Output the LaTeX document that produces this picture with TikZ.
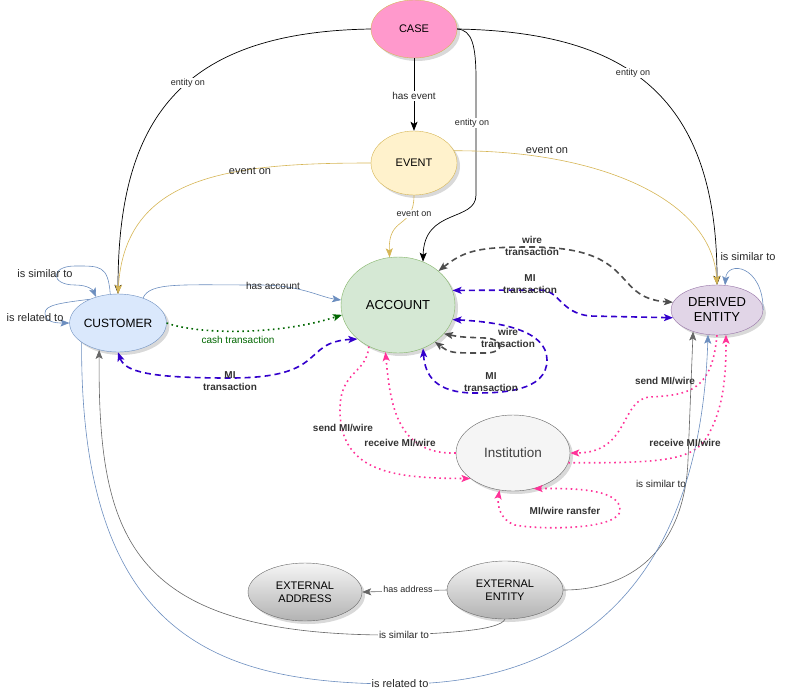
\documentclass[tikz,border=0pt]{standalone}
\usepackage{fontspec}
\setmainfont{Liberation Sans}
\usetikzlibrary{shapes.geometric,arrows.meta,shadows}
\definecolor{casepink}{HTML}{FF99CC}
\definecolor{goldline}{HTML}{D6B656}
\definecolor{eventfill}{HTML}{FFF2CC}
\definecolor{accfill}{HTML}{D5E8D4}
\definecolor{accline}{HTML}{82B366}
\definecolor{custfill}{HTML}{DAE8FC}
\definecolor{custline}{HTML}{6C8EBF}
\definecolor{derfill}{HTML}{E1D5E7}
\definecolor{derline}{HTML}{9673A6}
\definecolor{instfill}{HTML}{F5F5F5}
\definecolor{greyline}{HTML}{666666}
\definecolor{cashgreen}{HTML}{006600}
\definecolor{miblue}{HTML}{3300CC}
\definecolor{wiregrey}{HTML}{4D4D4D}
\definecolor{sendpink}{HTML}{FF3399}
\begin{document}
\begin{tikzpicture}[x=1pt, y=-1pt,
    ent/.style={ellipse, draw, inner sep=0pt, align=center, font=\fontsize{11}{13}\selectfont,
        drop shadow={opacity=0.3, shadow xshift=3pt, shadow yshift=-3pt}},
    extnode/.style={ent, draw=greyline, top color=instfill, bottom color=black!30},
    tip/.style={-{Stealth[length=9pt, width=7pt, inset=2pt]}},
    tips/.style={{Stealth[length=9pt, width=7pt, inset=2pt]}-{Stealth[length=9pt, width=7pt, inset=2pt]}},
    rel/.style={tip, draw=black, line width=0.7pt},
    evt/.style={tip, draw=goldline, line width=0.6pt},
    blu/.style={tip, draw=custline, line width=0.6pt},
    gry/.style={tip, draw=greyline, line width=0.6pt},
    cash/.style={tip, draw=cashgreen, line width=1.6pt, dash pattern=on 1.6pt off 3.5pt},
    mi/.style={tips, draw=miblue, line width=1.6pt, dash pattern=on 6pt off 4pt},
    wire/.style={tips, draw=wiregrey, line width=1.6pt, dash pattern=on 6pt off 4pt},
    pinkdot/.style={draw=sendpink, line width=1.6pt, dash pattern=on 1.6pt off 3.5pt},
    lbl/.style={font=\fontsize{9}{11}\selectfont, text=black!85, inner sep=1pt, align=center},
    wlbl/.style={lbl, fill=white},
    biglbl/.style={lbl, font=\fontsize{11}{13}\selectfont},
    boldlbl/.style={lbl, font=\fontsize{10}{12.5}\selectfont\bfseries, text=black!80}]
\useasboundingbox (0,0) rectangle (786,694);

\node[ent, fill=casepink, draw=goldline, minimum width=86, minimum height=58] (case) at (414,29) {CASE};
\node[ent, fill=eventfill, draw=goldline, minimum width=86, minimum height=64] (event) at (414,163) {EVENT};
\node[ent, fill=accfill, draw=accline, font=\fontsize{13}{15}\selectfont, minimum width=114, minimum height=96] (account) at (398,305) {ACCOUNT};
\node[ent, fill=custfill, draw=custline, font=\fontsize{12}{14}\selectfont, minimum width=72, minimum height=58] (customer) at (118,323) {CUSTOMER};
\node[ent, fill=derfill, draw=derline, font=\fontsize{13}{15}\selectfont, minimum width=92, minimum height=50] (derived) at (717,310) {DERIVED\\ENTITY};
\node[ent, fill=instfill, draw=greyline, text=black!75, font=\fontsize{13.5}{15}\selectfont, minimum width=114, minimum height=76] (institution) at (513,453) {Institution};
\node[extnode, minimum width=114, minimum height=58] (extaddress) at (305,592) {EXTERNAL\\ADDRESS};
\node[extnode, minimum width=116, minimum height=58] (extentity) at (505,590) {EXTERNAL\\ENTITY};

\draw[rel] (case.west) .. controls (180,32) and (118,120) .. (customer.north);
\draw[rel] (case) -- (event);
\draw[rel] (case.east) .. controls (472,30) and (476,45) .. (476,80) -- (476,195) .. controls (476,222) and (424,208) .. (account.60);
\draw[rel] (case.east) .. controls (620,32) and (717,90) .. (derived.north);
\draw[evt] (event.west) .. controls (230,163) and (125,175) .. (customer.north);
\draw[evt] (event.south) .. controls (414,230) and (388,215) .. (account.100);
\draw[evt] (event.17) .. controls (600,150) and (712,200) .. (derived.north);
\draw[blu] (customer.45) .. controls (150,282) and (180,285) .. (260,285) .. controls (300,285) and (320,297) .. (account.175);
\draw[cash] (customer.east) .. controls (200,335) and (280,335) .. (account.190);
\draw[mi] (customer.south) .. controls (125,372) and (150,378) .. (230,378) .. controls (330,378) and (300,342) .. (account.220);
\draw[wire] (account.40) .. controls (465,250) and (480,247) .. (530,247) .. controls (640,247) and (610,298) .. (derived.170);
\draw[mi] (account.15) -- (540,290) .. controls (560,290) and (560,313) .. (590,316) -- (derived.190);
\draw[wire] (account.-32) .. controls (460,337) .. (485,338) .. controls (505,339) and (505,353) .. (485,353) .. controls (450,353) .. (account.-45);
\draw[mi] (account.-15) .. controls (500,322) and (547,330) .. (547,360) .. controls (547,392) and (500,393) .. (475,393) .. controls (435,393) and (425,375) .. (account.-60);
\draw[pinkdot, tip] (account.235) .. controls (366,375) and (340,370) .. (340,410) .. controls (340,475) and (400,478) .. (institution.211);
\draw[pinkdot, tip] (institution.west) .. controls (395,455) and (390,400) .. (account.255);
\draw[pinkdot, tips] (institution.300) .. controls (580,488) and (620,490) .. (620,510) .. controls (620,530) and (540,530) .. (515,525) .. controls (500,520) and (497,505) .. (institution.250);
\draw[pinkdot, tip] (derived.south) .. controls (712,390) and (690,395) .. (650,397) .. controls (620,399) and (630,453) .. (institution.east);
\draw[pinkdot, tip] (institution.-10) .. controls (650,463) and (690,462) .. (705,440) .. controls (725,410) and (726,370) .. (derived.-70);
\draw[gry] (extentity.west) -- (extaddress.east);
\draw[gry] (extentity.east) .. controls (640,590) and (685,540) .. (688,460) -- (derived.-138);
\draw[gry] (extentity.south) .. controls (500,630) and (450,633) .. (400,635) .. controls (130,637) and (98,540) .. (customer.235);
\draw[blu] (customer.208) .. controls (80,640) and (220,684) .. (400,684) .. controls (580,684) and (700,580) .. (derived.-110);
\draw[blu] (customer.105) .. controls (108,265) and (100,266) .. (75,266) .. controls (50,266) and (50,285) .. (75,285) .. controls (88,285) and (93,290) .. (customer.130);
\draw[blu] (customer.140) .. controls (60,303) and (45,305) .. (45,313) .. controls (45,322) and (55,323) .. (customer.west);
\draw[blu] (derived.east) .. controls (763,265) and (727,260) .. (derived.72);

\node[wlbl] (l-ent1) at (188,83) {entity on};
\node[wlbl, font=\fontsize{10}{12}\selectfont] (l-hasev) at (414,96) {has event};
\node[wlbl] (l-ent2) at (472,123) {entity on};
\node[wlbl] (l-ent3) at (633,73) {entity on};
\node[biglbl] (l-ev1) at (250,171) {event on};
\node[wlbl] (l-ev2) at (414,214) {event on};
\node[biglbl] (l-ev3) at (547,150) {event on};
\node[lbl, font=\fontsize{10}{12}\selectfont] (l-hasacc) at (273,286) {has account};
\node[lbl, font=\fontsize{10}{12}\selectfont, text=cashgreen] (l-cash) at (238,340) {cash transaction};
\node[boldlbl] (l-mi1) at (230,381) {MI\\transaction};
\node[boldlbl] (l-wire1) at (532,246) {wire\\transaction};
\node[boldlbl] (l-mi2) at (530,284) {MI\\transaction};
\node[boldlbl] (l-wire2) at (508,338) {wire\\transaction};
\node[boldlbl] (l-mi3) at (491,382) {MI\\transaction};
\node[boldlbl] (l-send1) at (343,428) {send MI/wire};
\node[boldlbl] (l-recv1) at (400,443) {receive MI/wire};
\node[boldlbl] (l-loop) at (565,511) {MI/wire ransfer};
\node[boldlbl] (l-send2) at (665,381) {send MI/wire};
\node[boldlbl] (l-recv2) at (685,443) {receive MI/wire};
\node[wlbl] (l-addr) at (408,589) {has address};
\node[lbl, font=\fontsize{10}{12}\selectfont] (l-sim1) at (661,484) {is similar to};
\node[wlbl, font=\fontsize{10}{12}\selectfont] (l-sim2) at (404,635) {is similar to};
\node[wlbl, font=\fontsize{11}{13}\selectfont] (l-relto) at (400,684) {is related to};
\node[biglbl] (l-sim3) at (45,274) {is similar to};
\node[biglbl] (l-rel2) at (35,318) {is related to};
\node[biglbl] (l-sim4) at (748,257) {is similar to};
\end{tikzpicture}
\end{document}
